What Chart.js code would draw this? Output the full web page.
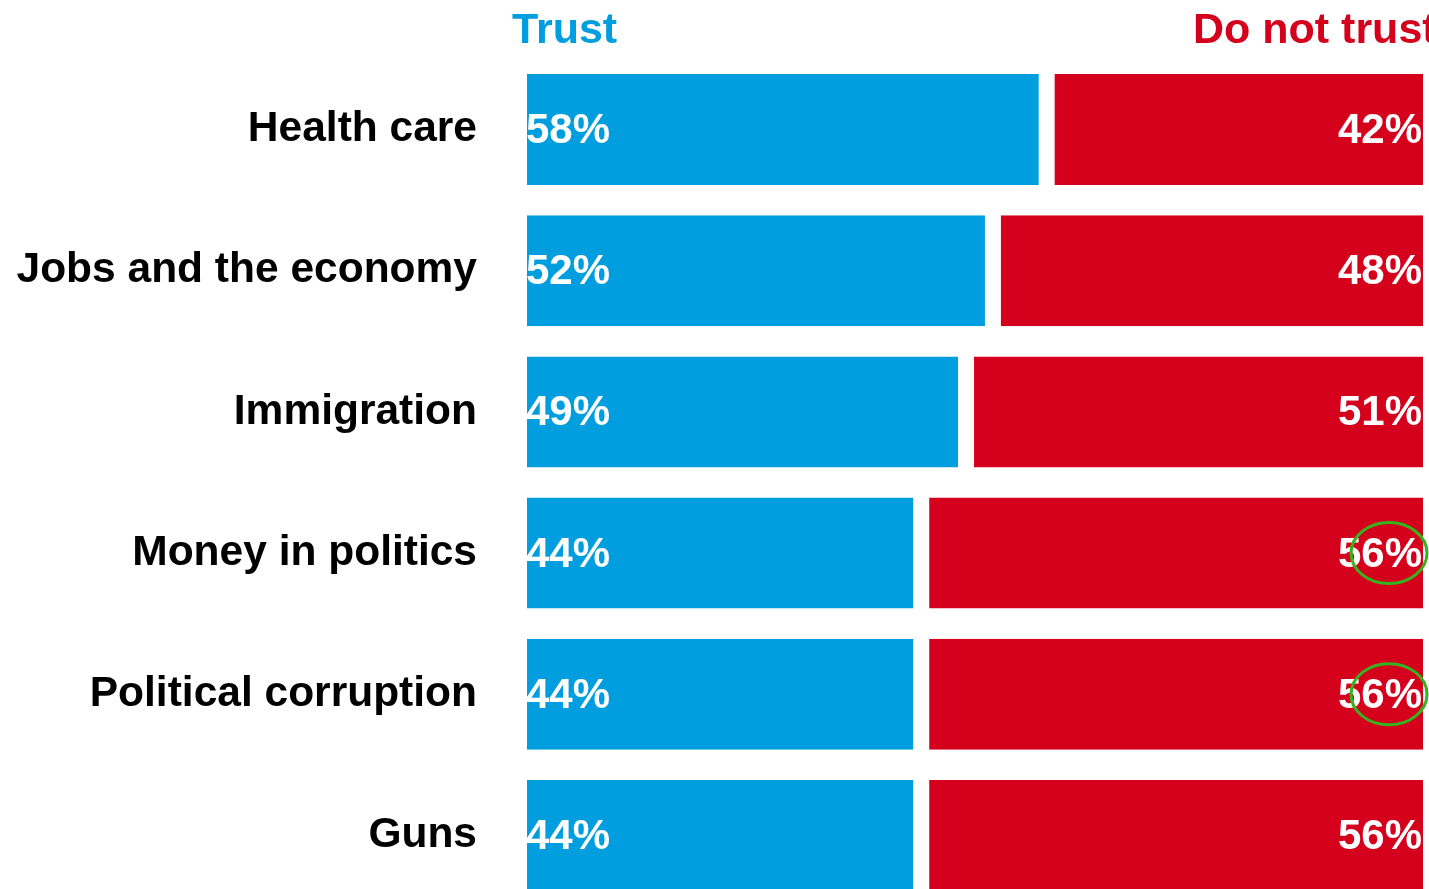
<!DOCTYPE html>
<html>
<head>
<meta charset="utf-8">
<script src="https://cdn.jsdelivr.net/npm/chart.js@4.4.1/dist/chart.umd.min.js"></script>
<style>
  html, body { margin: 0; padding: 0; background: #fff; overflow: hidden; }
</style>
</head>
<body>
<canvas id="c" width="1429" height="906" style="display:block;width:1429px;height:906px"></canvas>
<script>
const categories = ['Health care', 'Jobs and the economy', 'Immigration', 'Money in politics', 'Political corruption', 'Guns'];
const trustValues = [58, 52, 49, 44, 44, 44];
const distrustValues = [42, 48, 51, 56, 56, 56];
const seriesNames = ['Trust', 'Do not trust'];
const highlighted = ['Money in politics', 'Political corruption'];

const BLUE = '#009ede';
const RED = '#d5001c';
const GREEN = '#36b31e';
const FONT = '"Liberation Sans", Arial, sans-serif';

const overlay = {
  id: 'overlay',
  afterDatasetsDraw(chart) {
    const ctx = chart.ctx;
    const area = chart.chartArea;
    ctx.save();
    ctx.font = 'bold 42px ' + FONT;
    ctx.textBaseline = 'middle';
    ctx.fillStyle = '#fff';
    const m0 = chart.getDatasetMeta(0).data;
    const m1 = chart.getDatasetMeta(1).data;
    m0.forEach((bar, i) => {
      ctx.textAlign = 'left';
      ctx.fillText(trustValues[i] + '%', bar.base - 1, bar.y + 2);
    });
    m1.forEach((bar, i) => {
      ctx.textAlign = 'right';
      ctx.fillText(distrustValues[i] + '%', bar.x - 1, bar.y + 2);
      if (highlighted.includes(categories[i])) {
        ctx.strokeStyle = GREEN;
        ctx.lineWidth = 3;
        ctx.beginPath();
        ctx.ellipse(bar.x - 34, bar.y, 38, 30.5, 0, 0, Math.PI * 2);
        ctx.stroke();
      }
    });
    ctx.font = 'bold 43px ' + FONT;
    ctx.textBaseline = 'alphabetic';
    ctx.textAlign = 'left';
    ctx.fillStyle = BLUE;
    ctx.fillText(seriesNames[0], area.left - 15, area.top - 16);
    ctx.fillStyle = RED;
    ctx.fillText(seriesNames[1], area.right - 230, area.top - 16);
    ctx.restore();
  }
};

new Chart(document.getElementById('c'), {
  type: 'bar',
  data: {
    labels: categories,
    datasets: [
      {
        label: seriesNames[0],
        data: trustValues,
        backgroundColor: BLUE,
        borderColor: '#ffffff',
        borderWidth: { top: 0, bottom: 0, left: 0, right: 8 },
        borderSkipped: false,
        inflateAmount: 0
      },
      {
        label: seriesNames[1],
        data: distrustValues,
        backgroundColor: RED,
        borderColor: '#ffffff',
        borderWidth: { top: 0, bottom: 0, left: 8, right: 0 },
        borderSkipped: false,
        inflateAmount: 0
      }
    ]
  },
  options: {
    indexAxis: 'y',
    responsive: false,
    animation: false,
    barPercentage: 0.786,
    categoryPercentage: 1,
    layout: { padding: { top: 59, right: 6, bottom: 0, left: 0 } },
    plugins: {
      legend: { display: false },
      tooltip: { enabled: false }
    },
    scales: {
      x: { stacked: true, min: 0, max: 100, display: false },
      y: {
        stacked: true,
        grid: { display: false, drawTicks: false },
        border: { display: false },
        ticks: {
          color: '#000',
          padding: 50,
          font: { family: FONT, size: 42.5, weight: 'bold' }
        },
        afterFit(scale) {
          scale.width = 527;
          scale.paddingTop = 0;
          scale.paddingBottom = 0;
        }
      }
    }
  },
  plugins: [overlay]
});
</script>
</body>
</html>
